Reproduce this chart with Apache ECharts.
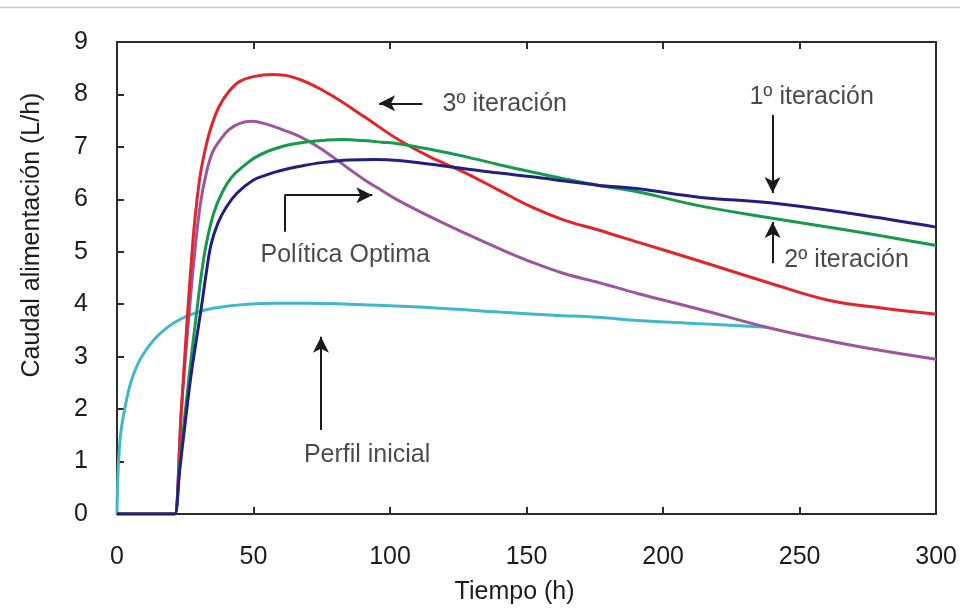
<!DOCTYPE html>
<html><head><meta charset="utf-8">
<script src="https://cdn.jsdelivr.net/npm/echarts@6/dist/echarts.min.js"></script>
<style>html,body{margin:0;padding:0;background:#fff}#c{width:960px;height:616px}</style>
</head><body><div id="c"></div>
<script>
// ---- data (Tiempo h, Caudal L/h) ----
const xTicks = [0, 50, 100, 150, 200, 250, 300];
const yTicks = [0, 1, 2, 3, 4, 5, 6, 7, 8, 9];

const tInicial = [0, 0.3, 0.8, 1.5, 3, 5, 7.5, 10, 14, 18, 22, 27, 33, 40, 48, 58, 70, 85, 100, 120, 140, 160, 176, 191, 213, 238];
const qInicial = [0, 0.7, 1.2, 1.6, 2.05, 2.5, 2.85, 3.08, 3.35, 3.54, 3.68, 3.8, 3.9, 3.96, 4.0, 4.02, 4.02, 4.0, 3.97, 3.92, 3.85, 3.79, 3.75, 3.69, 3.63, 3.56];

const tOptima = [0, 20.6, 21.2, 23.6, 26.6, 28.5, 30.5, 32.7, 35, 37.6, 41, 45, 49.2, 55, 61, 66.8, 73, 79, 85, 91, 97, 103, 115, 128, 140, 152, 164, 176, 191, 213, 238, 256, 274, 300];
const qOptima = [0, 0, 0, 2.0, 3.94, 5.0, 5.9, 6.5, 6.9, 7.12, 7.33, 7.45, 7.49, 7.43, 7.32, 7.2, 7.02, 6.81, 6.58, 6.36, 6.17, 5.98, 5.66, 5.34, 5.06, 4.80, 4.58, 4.42, 4.20, 3.91, 3.56, 3.35, 3.17, 2.95];

const tIter3 = [0, 20.6, 21.2, 23.6, 26, 27.8, 28.5, 30.3, 32.3, 34.6, 37.5, 41.2, 45, 50, 57, 63, 70, 79, 91, 103, 115, 127, 140, 152, 164, 176, 191, 213, 238, 261, 280, 300];
const qIter3 = [0, 0, 0, 2.0, 3.94, 5.2, 5.6, 6.4, 6.95, 7.4, 7.78, 8.07, 8.25, 8.34, 8.38, 8.35, 8.22, 7.97, 7.56, 7.14, 6.8, 6.52, 6.17, 5.85, 5.6, 5.42, 5.18, 4.83, 4.42, 4.07, 3.93, 3.81];

const tIter2 = [0, 20.6, 21.2, 23, 25, 27, 29.3, 31, 32.7, 35.5, 38.7, 42, 46, 51, 57, 63, 70, 77, 83, 90, 97, 103, 115, 128, 140, 152, 164, 176, 191, 213, 240, 270, 300];
const qIter2 = [0, 0, 0, 0.95, 1.95, 2.9, 3.9, 4.6, 5.15, 5.75, 6.15, 6.42, 6.62, 6.81, 6.95, 7.04, 7.1, 7.13, 7.14, 7.12, 7.09, 7.06, 6.95, 6.81, 6.66, 6.52, 6.39, 6.27, 6.14, 5.88, 5.64, 5.39, 5.12];

const tIter1 = [0, 20.6, 21.2, 23, 25, 27, 29, 30.9, 32.7, 34.5, 37, 40, 44, 49.7, 55, 60, 67, 75, 85, 95, 103, 115, 128, 140, 152, 164, 176, 191, 213, 240, 270, 300];
const qIter1 = [0, 0, 0, 0.85, 1.75, 2.6, 3.3, 3.94, 4.6, 5.15, 5.55, 5.85, 6.12, 6.36, 6.47, 6.55, 6.63, 6.7, 6.75, 6.76, 6.74, 6.67, 6.58, 6.5, 6.43, 6.35, 6.27, 6.20, 6.04, 5.93, 5.72, 5.47];

// annotation texts and their anchor points (data coords)
const labelTexts = ['3º iteración', '1º iteración', '2º iteración', 'Política Optima', 'Perfil inicial'];
const labelT = [142, 254.4, 267.2, 83.6, 91.6];
const labelQ = [7.82, 7.95, 4.84, 4.94, 1.13];

// arrows: [tStart, qStart, tEnd, qEnd, arrowHead]
const arrowLines = [
  [111.8, 7.83, 96, 7.83, 1],
  [240.1, 7.61, 240.1, 6.12, 1],
  [240.1, 4.78, 240.1, 5.57, 1],
  [61.3, 5.38, 61.3, 6.08, 0],
  [61.3, 6.08, 93.5, 6.08, 1],
  [74.7, 1.60, 74.7, 3.38, 1]
];

const zip = (a, b) => a.map((v, i) => [v, b[i]]);
const FONT = 'Liberation Sans, Arial, sans-serif';
const TXT = '#1c1c1c';
const AX = '#2b2b2b';
const FS = 25;

function curve(name, t, q, color, z) {
  return {
    name, type: 'line', data: zip(t, q), showSymbol: false, symbol: 'none',
    smooth: 0.4, z,
    lineStyle: { color, width: 3 }, silent: true, animation: false
  };
}

const chart = echarts.init(document.getElementById('c'), null, { renderer: 'canvas' });
chart.setOption({
  backgroundColor: '#fff',
  animation: false,
  grid: { left: 117, right: 20, top: 42, bottom: 102, containLabel: false },
  graphic: [{
    type: 'line', shape: { x1: 0, y1: 7.5, x2: 960, y2: 7.5 },
    style: { stroke: '#c9c9c9', lineWidth: 1.5 }
  }],
  xAxis: [{
    type: 'value', min: xTicks[0], max: xTicks[xTicks.length - 1], interval: 50,
    position: 'bottom',
    name: 'Tiempo (h)', nameLocation: 'middle', nameGap: 66,
    nameTextStyle: { fontFamily: FONT, fontSize: FS, color: TXT, padding: [0, 24, 0, 0] },
    axisLine: { show: true, onZero: false, lineStyle: { color: AX, width: 2 } },
    axisTick: { show: true, inside: true, length: 7, lineStyle: { color: AX, width: 2 } },
    axisLabel: { fontFamily: FONT, fontSize: FS, color: TXT, margin: 31 },
    splitLine: { show: false }
  }, {
    type: 'value', min: xTicks[0], max: xTicks[xTicks.length - 1], interval: 50,
    position: 'top',
    axisLine: { show: true, onZero: false, lineStyle: { color: AX, width: 2 } },
    axisTick: { show: true, inside: true, length: 7, lineStyle: { color: AX, width: 2 } },
    axisLabel: { show: false }, splitLine: { show: false }
  }],
  yAxis: [{
    type: 'value', min: yTicks[0], max: yTicks[yTicks.length - 1], interval: 1,
    position: 'left',
    name: 'Caudal alimentación (L/h)', nameLocation: 'middle', nameGap: 72, nameRotate: 90,
    nameTextStyle: { fontFamily: FONT, fontSize: FS, color: TXT, padding: [0, 0, 0, 86] },
    axisLine: { show: true, onZero: false, lineStyle: { color: AX, width: 2 } },
    axisTick: { show: true, inside: true, length: 7, lineStyle: { color: AX, width: 2 } },
    axisLabel: { fontFamily: FONT, fontSize: FS, color: TXT, margin: 29 },
    splitLine: { show: false }
  }, {
    type: 'value', min: yTicks[0], max: yTicks[yTicks.length - 1], interval: 1,
    position: 'right',
    axisLine: { show: true, onZero: false, lineStyle: { color: AX, width: 2 } },
    axisTick: { show: false }, axisLabel: { show: false }, splitLine: { show: false }
  }],
  series: [
    curve('Perfil inicial', tInicial, qInicial, '#3fb9c9', 2),
    curve('Política Optima', tOptima, qOptima, '#9b569e', 3),
    curve('3º iteración', tIter3, qIter3, '#e2242b', 4),
    curve('2º iteración', tIter2, qIter2, '#169a4c', 5),
    curve('1º iteración', tIter1, qIter1, '#241f7f', 6),
    {
      type: 'scatter', z: 10, silent: true, animation: false,
      symbolSize: 1, itemStyle: { color: 'rgba(0,0,0,0)' },
      data: labelTexts.map((s, i) => [labelT[i], labelQ[i], s]),
      label: {
        show: true, position: 'inside', formatter: p => p.data[2],
        fontFamily: FONT, fontSize: FS, color: TXT
      },
      markLine: {
        silent: true, animation: false,
        symbolSize: [12, 16],
        lineStyle: { color: '#1a1a1a', width: 2, type: 'solid' },
        label: { show: false },
        data: arrowLines.map(a => [
          { coord: [a[0], a[1]], symbol: 'none' },
          { coord: [a[2], a[3]], symbol: a[4] ? 'arrow' : 'none' }
        ])
      }
    }
  ]
});
</script>
</body></html>
